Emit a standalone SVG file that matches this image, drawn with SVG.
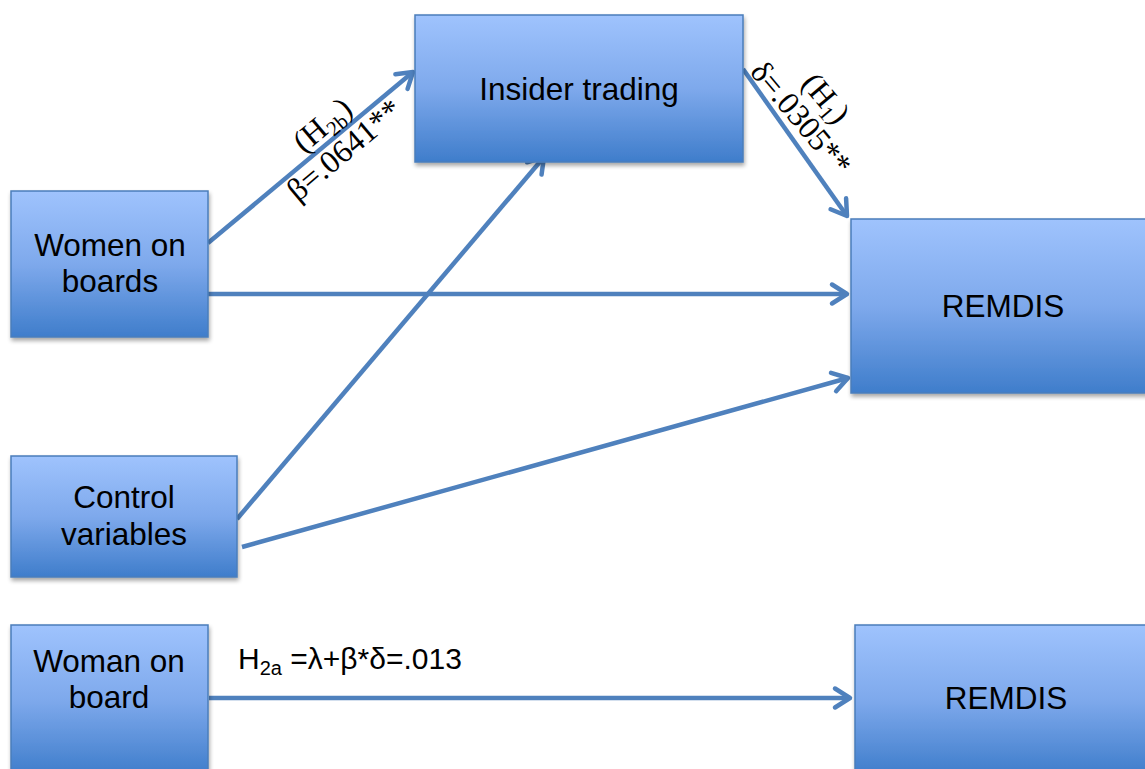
<svg xmlns="http://www.w3.org/2000/svg" width="1145" height="769" viewBox="0 0 1145 769">
  <defs>
    <linearGradient id="boxGrad" x1="0" y1="0" x2="0" y2="1">
      <stop offset="0" stop-color="#9fc3fd"/>
      <stop offset="0.5" stop-color="#7ea9ec"/>
      <stop offset="1" stop-color="#3f7dcb"/>
    </linearGradient>
    <filter id="shadow" x="-10%" y="-10%" width="120%" height="125%">
      <feGaussianBlur in="SourceAlpha" stdDeviation="2"/>
      <feOffset dx="1" dy="3" result="b"/>
      <feComponentTransfer><feFuncA type="linear" slope="0.35"/></feComponentTransfer>
      <feMerge><feMergeNode/><feMergeNode in="SourceGraphic"/></feMerge>
    </filter>
    <marker id="arrow" markerUnits="userSpaceOnUse" markerWidth="30" markerHeight="30" refX="0" refY="0" viewBox="-20 -15 25 30" orient="auto">
      <path d="M -15 -9.5 L 0 0 L -15 9.5" fill="none" stroke="#4f81bd" stroke-width="4.5" stroke-linecap="round" stroke-linejoin="round"/>
    </marker>
  </defs>
  <style>
    .box { fill: url(#boxGrad); stroke: #4a7ebb; stroke-width: 1.5; filter: url(#shadow); }
    .lbl { font-family: "Liberation Sans", Arial, sans-serif; font-size: 31.5px; fill: #000; text-anchor: middle; }
    .conn { stroke: #4f81bd; stroke-width: 4.5; fill: none; marker-end: url(#arrow); }
    .coef { font-family: "Liberation Serif", "Times New Roman", serif; font-size: 32px; fill: #000; text-anchor: middle; }
    .eq { font-family: "Liberation Sans", Arial, sans-serif; font-size: 30px; fill: #000; }
  </style>
  <rect width="1145" height="769" fill="#ffffff"/>

  <g id="connectors">
    <line class="conn" x1="208" y1="243" x2="413" y2="72"/>
    <line class="conn" x1="743" y1="69" x2="847" y2="216"/>
    <line class="conn" x1="208" y1="294" x2="847" y2="294"/>
    <line class="conn" x1="237" y1="519" x2="544" y2="157"/>
    <line class="conn" x1="242" y1="547" x2="848" y2="378"/>
    <line class="conn" x1="209" y1="698" x2="850" y2="698"/>
  </g>

  <g id="node-insider">
    <rect class="box" x="415" y="15" width="328" height="147"/>
    <text class="lbl" x="579" y="100">Insider trading</text>
  </g>
  <g id="node-women">
    <rect class="box" x="11" y="191" width="197" height="146"/>
    <text class="lbl" x="110" y="256">Women on</text>
    <text class="lbl" x="110" y="292">boards</text>
  </g>
  <g id="node-remdis">
    <rect class="box" x="851" y="219" width="300" height="174"/>
    <text class="lbl" x="1003" y="317">REMDIS</text>
  </g>
  <g id="node-control">
    <rect class="box" x="11" y="456" width="226" height="121"/>
    <text class="lbl" x="124" y="508">Control</text>
    <text class="lbl" x="124" y="545">variables</text>
  </g>
  <g id="node-woman">
    <rect class="box" x="11" y="625" width="197" height="150"/>
    <text class="lbl" x="109" y="672">Woman on</text>
    <text class="lbl" x="109" y="708">board</text>
  </g>
  <g id="node-remdis2">
    <rect class="box" x="855" y="625" width="296" height="150"/>
    <text class="lbl" x="1006" y="709">REMDIS</text>
  </g>

  <g id="labels">
    <text class="coef" transform="translate(329,133) rotate(-40)">(H<tspan font-size="21" dy="6">2b</tspan><tspan dy="-6">)</tspan></text>
    <text class="coef" transform="translate(351,158) rotate(-40)">β=.0641**</text>
    <text class="coef" transform="translate(818,105) rotate(50)">(H<tspan font-size="21" dy="6">1</tspan><tspan dy="-6">)</tspan></text>
    <text class="coef" transform="translate(793,125) rotate(50)">δ=.0305**</text>
    <text class="eq" x="238" y="669">H<tspan font-size="20" dy="6">2a</tspan><tspan dy="-6"> =λ+β*δ=.013</tspan></text>
  </g>
</svg>
